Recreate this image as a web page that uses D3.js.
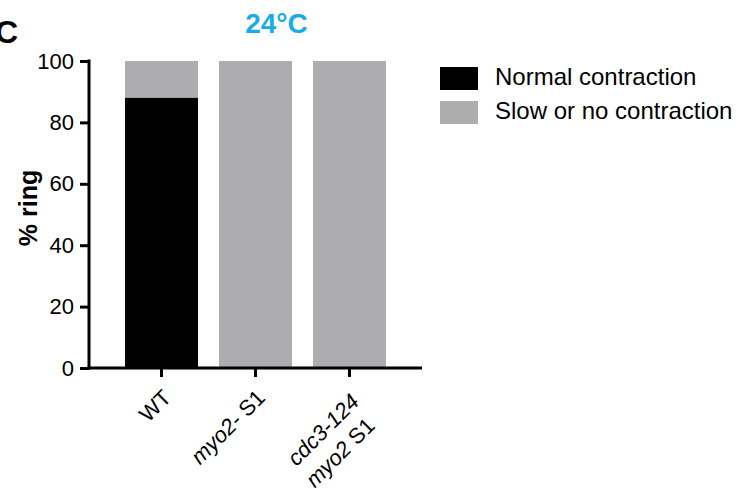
<!DOCTYPE html>
<html>
<head>
<meta charset="utf-8">
<script src="https://cdn.jsdelivr.net/npm/d3@7"></script>
<style>
  body { margin: 0; background: #fff; }
  text { font-family: "Liberation Sans", Arial, sans-serif; }
</style>
</head>
<body>
<div id="chart"></div>
<script>
// data
let categories = ["WT", "myo2- S1", "cdc3-124 myo2 S1"];
let normalValues = [88, 0, 0];
let slowValues = [12, 100, 100];
let yTicks = [0, 20, 40, 60, 80, 100];
let seriesNames = ["Normal contraction", "Slow or no contraction"];
let seriesColors = ["#000000", "#adadaf"];

// label pieces: [text, italic]
let xLabelLines = [
  [[["WT", false]]],
  [[["myo2-", true], [" S1", false]]],
  [[["cdc3-124", true]], [["myo2", true], [" S1", false]]]
];

let width = 752, height = 490;
let svg = d3.select("#chart").append("svg")
  .attr("width", width).attr("height", height);

let x = d3.scaleBand().domain(categories).range([89, 422])
  .paddingInner(0.223).paddingOuter(0.383);
let y = d3.scaleLinear().domain([0, 100]).range([368, 61]);

// stacked bars
let stack = categories.map((c, i) => ({ c, n: normalValues[i], s: slowValues[i] }));

svg.selectAll(".slow").data(stack).enter().append("rect")
  .attr("x", d => x(d.c)).attr("width", x.bandwidth())
  .attr("y", d => y(d.n + d.s)).attr("height", d => y(d.n) - y(d.n + d.s))
  .attr("fill", seriesColors[1]);

svg.selectAll(".normal").data(stack).enter().append("rect")
  .attr("x", d => x(d.c)).attr("width", x.bandwidth())
  .attr("y", d => y(d.n)).attr("height", d => y(0) - y(d.n))
  .attr("fill", seriesColors[0]);

// y axis
let yAxis = d3.axisLeft(y).tickValues(yTicks).tickSize(9).tickPadding(6).tickSizeOuter(0);
let gy = svg.append("g").attr("transform", "translate(89,0)").call(yAxis);
gy.select(".domain").attr("stroke-width", 3).attr("stroke", "#000")
  .attr("d", "M0," + (y(100) - 1.5) + "V" + (y(0) + 1.5));
gy.selectAll(".tick line").attr("stroke-width", 3);
gy.selectAll(".tick text").style("font-size", "22px").attr("fill", "#000")
  .style("font-family", "'Liberation Sans', Arial, sans-serif");

// x axis
let xAxis = d3.axisBottom(x).tickSize(9).tickSizeOuter(0).tickFormat("");
let gx = svg.append("g").attr("transform", "translate(0," + y(0) + ")").call(xAxis);
gx.select(".domain").attr("stroke-width", 3).attr("stroke", "#000")
  .attr("d", "M87.5,0H422");
gx.selectAll(".tick line").attr("stroke-width", 3);

// x labels, rotated
categories.forEach((c, i) => {
  let lines = xLabelLines[i];
  let dyFirst = lines.length > 1 ? 4 : 0;
  let t = svg.append("text")
    .attr("transform", "translate(" + (x(c) + x.bandwidth() / 2 + 11) + "," + (y(0) + 31 + dyFirst) + ") rotate(-45)")
    .attr("text-anchor", "end")
    .style("font-size", "22px");
  lines.forEach((line, li) => {
    line.forEach((part, pi) => {
      let ts = t.append("tspan").text(part[0])
        .style("font-style", part[1] ? "italic" : "normal");
      if (pi === 0) ts.attr("x", li === 0 ? 0 : -6).attr("dy", li === 0 ? 0 : 28);
    });
  });
});

// y label
svg.append("text")
  .attr("transform", "translate(37,208) rotate(-90)")
  .attr("text-anchor", "middle")
  .style("font-size", "25px").style("font-weight", "bold")
  .text("% ring");

// title
svg.append("text")
  .attr("x", 276.5).attr("y", 33)
  .attr("text-anchor", "middle")
  .attr("fill", "#1aace8")
  .style("font-size", "28px").style("font-weight", "bold")
  .text("24°C");

// panel letter
svg.append("text")
  .attr("x", -5).attr("y", 43)
  .style("font-size", "32px").style("font-weight", "bold")
  .text("C");

// legend
let legend = svg.selectAll(".legend").data(seriesNames).enter().append("g")
  .attr("transform", (d, i) => "translate(440," + (67 + i * 34) + ")");
legend.append("rect").attr("width", 38).attr("height", 23)
  .attr("fill", (d, i) => seriesColors[i]);
legend.append("text").attr("x", 55).attr("y", 18)
  .style("font-size", "24px").text(d => d);
</script>
</body>
</html>
